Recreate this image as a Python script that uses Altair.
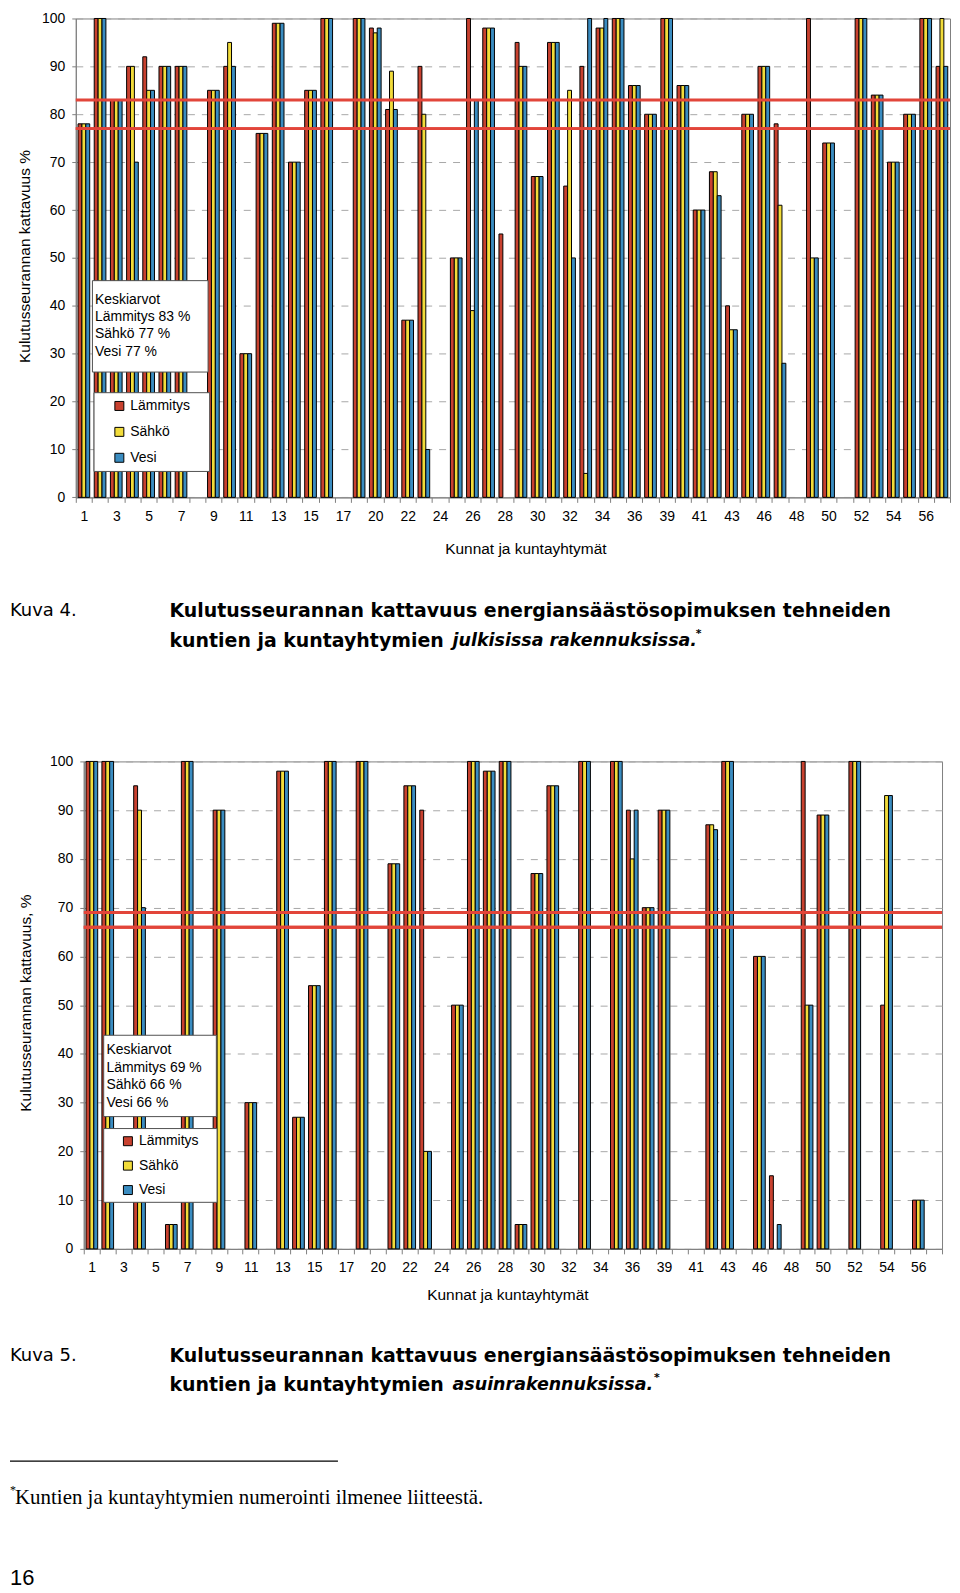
import json
import altair as alt
import pandas as pd

# ---------------- data ----------------
kunnat = ([str(i) for i in range(1, 18)] + ["19"] + [str(i) for i in range(20, 37)] + ["38"]
          + [str(i) for i in range(39, 44)] + ["45"] + [str(i) for i in range(46, 58)])
sarjat = ["Lämmitys", "Sähkö", "Vesi"]
varit = ["#c8412f", "#f2dc3a", "#3a8cc0"]
N = None

# Kuva 4: julkiset rakennukset
top_lam = [78, 100, 83, 90, 92, 90, 90, N, 85, 90, 30, 76, 99, 70, 85, 100, N, 100, 98, 81, 37, 90, N, 50, 100, 98, 55,
           95, 67, 95, 65, 90, 98, 100, 86, 80, 100, 86, 60, 68, 40, 80, 90, 78, N, 100, 74, N, 100, 84, 70, 80, 100, 90]
top_sah = [78, 100, 83, 90, 85, 90, 90, N, 85, 95, 30, 76, 99, 70, 85, 100, N, 100, 97, 89, 37, 80, N, 50, 39, 98, N,
           90, 67, 95, 85, 5, 98, 100, 86, 80, 100, 86, 60, 68, 35, 80, 90, 61, N, 50, 74, N, 100, 84, 70, 80, 100, 100]
top_ves = [78, 100, 83, 70, 85, 90, 90, N, 85, 90, 30, 76, 99, 70, 85, 100, N, 100, 98, 81, 37, 10, N, 50, 83, 98, N,
           90, 67, 95, 50, 100, 100, 100, 86, 80, 100, 86, 60, 63, 35, 80, 90, 28, N, 50, 74, N, 100, 84, 70, 80, 100, 90]
top_avg = [83, 77, 77]

# Kuva 5: asuinrakennukset
bot_lam = [100, 100, N, 95, N, 5, 100, N, 90, N, 30, N, 98, 27, 54, 100, N, 100, N, 79, 95, 90, N, 50, 100, 98, 100,
           5, 77, 95, N, 100, N, 100, 90, 70, 90, N, N, 87, 100, N, 60, 15, N, 100, 89, N, 100, N, 50, N, 10, N]
bot_sah = [100, 100, N, 90, N, 5, 100, N, 90, N, 30, N, 98, 27, 54, 100, N, 100, N, 79, 95, 20, N, 50, 100, 98, 100,
           5, 77, 95, N, 100, N, 100, 80, 70, 90, N, N, 87, 100, N, 60, N, N, 50, 89, N, 100, N, 93, N, 10, N]
bot_ves = [100, 100, N, 70, N, 5, 100, N, 90, N, 30, N, 98, 27, 54, 100, N, 100, N, 79, 95, 20, N, 50, 100, 98, 100,
           5, 77, 95, N, 100, N, 100, 90, 70, 90, N, N, 86, 100, N, 60, 5, N, 50, 89, N, 100, N, 93, N, 10, N]
bot_avg = [69, 66, 66]

x_title = "Kunnat ja kuntayhtymät"
top_ytitle = "Kulutusseurannan kattavuus %"
bot_ytitle = "Kulutusseurannan kattavuus, %"
cap_head = ["Kuva 4.", "Kuva 5."]
cap_line1 = "Kulutusseurannan kattavuus energiansäästösopimuksen tehneiden"
cap_line2 = "kuntien ja kuntayhtymien"
cap_ital = ["julkisissa rakennuksissa.", "asuinrakennuksissa."]
footnote = "Kuntien ja kuntayhtymien numerointi ilmenee liitteestä."
page_no = "16"

ONE = pd.DataFrame({"a": [0]})
SANS = "Liberation Sans"
labelled = kunnat[0::2]
label_expr = "indexof(" + json.dumps(labelled) + ", datum.value) >= 0 ? datum.label : ''"


def long(l, s, v):
    rows = []
    for i, k in enumerate(kunnat):
        for name, arr in zip(sarjat, (l, s, v)):
            if arr[i] is not None:
                rows.append({"kunta": k, "sarja": name, "arvo": arr[i]})
    return pd.DataFrame(rows)


def txt(x, y, t, **kw):
    return alt.Chart(ONE).mark_text(**kw).encode(x=alt.value(x), y=alt.value(y), text=alt.value(t))


def box(x1, x2, y1, y2):
    return alt.Chart(ONE).mark_rect(fill="white", stroke="#505050", strokeWidth=1).encode(
        x=alt.value(x1), x2=alt.value(x2), y=alt.value(y1), y2=alt.value(y2))


def panel(df, avg, W, H, ytitle, ytx, yty, xtx, xty, kbox, ktext, lbox, lx, ly, rowpad, head_x, cap_y,
          l1x, itx, itext, astx):
    bars = alt.Chart(df).mark_bar(stroke="black", strokeWidth=1).encode(
        x=alt.X("kunta:N", sort=kunnat,
                scale=alt.Scale(domain=kunnat, paddingInner=0, paddingOuter=0),
                axis=alt.Axis(title=x_title, labelExpr=label_expr, labelAngle=0, tickBand="extent",
                              tickSize=5, labelPadding=7, domainColor="#808080", tickColor="#808080",
                              labelFontSize=14, labelFont=SANS, labelColor="black",
                              titleFontSize=15.5, titleFont=SANS, titleFontWeight="normal",
                              titleColor="black", titleX=xtx, titleY=xty, titleBaseline="middle",
                              titleAlign="center", grid=False)),
        xOffset=alt.XOffset("sarja:N", sort=sarjat,
                            scale=alt.Scale(domain=sarjat, paddingInner=0, paddingOuter=0.58)),
        y=alt.Y("arvo:Q", scale=alt.Scale(domain=[0, 100], nice=False),
                axis=alt.Axis(values=list(range(0, 101, 10)), title=ytitle, grid=True,
                              gridDash=[7, 7], gridColor="#a8a8a8", gridWidth=1,
                              tickSize=4, labelPadding=7, domainColor="#808080", tickColor="#808080",
                              labelFontSize=14, labelFont=SANS, labelColor="black",
                              titleFontSize=15.5, titleFont=SANS, titleFontWeight="normal",
                              titleColor="black", titleX=ytx, titleY=yty, titleAngle=270,
                              titleBaseline="middle", titleAlign="center")),
        color=alt.Color("sarja:N", sort=sarjat, scale=alt.Scale(domain=sarjat, range=varit),
                        legend=alt.Legend(orient="none", legendX=lx, legendY=ly, title=None,
                                          direction="vertical", symbolType="square", symbolSize=81,
                                          symbolStrokeColor="black", symbolStrokeWidth=1,
                                          symbolOpacity=1, labelFontSize=14, labelFont=SANS,
                                          labelColor="black", rowPadding=rowpad, labelOffset=4,
                                          padding=0)),
    )
    rules = alt.Chart(pd.DataFrame({"sarja": sarjat, "arvo": avg})).mark_rule(
        color="#e2453a", strokeWidth=3).encode(y="arvo:Q")
    ktxt = ["Keskiarvot"] + [f"{s} {a} %" for s, a in zip(sarjat, avg)]
    layers = [
        bars, rules,
        box(*kbox),
        txt(ktext[0], ktext[1], ktxt, align="left", baseline="middle", fontSize=14, font=SANS,
            lineHeight=17.4, color="black"),
        box(*lbox),
        txt(head_x, cap_y, cap_head[itext], align="left", baseline="middle", fontSize=18,
            font="DejaVu Sans", color="black"),
        txt(l1x, cap_y, cap_line1, align="left", baseline="middle", fontSize=19,
            font="DejaVu Sans", fontWeight="bold", color="black"),
        txt(l1x, cap_y + 30, cap_line2, align="left", baseline="middle", fontSize=19,
            font="DejaVu Sans", fontWeight="bold", color="black"),
        txt(itx, cap_y + 30, cap_ital[itext], align="left", baseline="middle", fontSize=17.5,
            font="DejaVu Sans", fontWeight="bold", fontStyle="italic", color="black"),
        txt(astx, cap_y + 23, "*", align="left", baseline="middle", fontSize=11,
            font="DejaVu Sans", fontWeight="bold", color="black"),
    ]
    return alt.layer(*layers).properties(width=W, height=H)


T1 = 16.3          # page y of the top plot's upper edge
L1, L2 = 74, 82    # page x of the plot areas' left edges
B2 = 761           # page y of the lower plot's upper edge

top = panel(long(top_lam, top_sah, top_ves), top_avg, 877, 496.7 - T1, top_ytitle,
            23 - L1, 254.6 - T1, 525 - L1, 51.5,
            (90.7 - L1, 206.7 - L1, 279.3 - T1, 371 - T1), (93.3 - L1, 298.3 - T1),
            (92.3 - L1, 208.3 - L1, 391.7 - T1, 470.7 - T1), 110.7 - L1, 405 - 7 - T1, 12,
            8 - L1, 611 - T1, 168 - L1, 452 - L1, 0, 696 - L1)

bot_base = alt.layer(
    panel(long(bot_lam, bot_sah, bot_ves), bot_avg, 861, 489, bot_ytitle,
          24 - L2, 1003 - B2, 507 - L2, 46,
          (102 - L2, 215 - L2, 1035.7 - B2, 1117.3 - B2), (104.7 - L2, 1051 - B2),
          (102 - L2, 215.7 - L2, 1129.3 - B2, 1203.3 - B2), 119.3 - L2, 1142 - 7 - B2, 10.5,
          8 - L2, 1357 - B2, 168 - L2, 452 - L2, 1, 654 - L2),
    alt.Chart(ONE).mark_rule(color="black", strokeWidth=1.3).encode(
        x=alt.value(8 - L2), x2=alt.value(337 - L2), y=alt.value(1463 - B2)),
    txt(8 - L2, 1492 - B2, "*", align="left", baseline="middle", fontSize=12, font="Liberation Serif",
        color="black"),
    txt(13 - L2, 1500 - B2, footnote, align="left", baseline="middle", fontSize=21,
        font="Liberation Serif", color="black"),
    txt(8 - L2, 1580 - B2, page_no, align="left", baseline="middle", fontSize=22, font=SANS,
        color="black"),
)

chart = alt.vconcat(top, bot_base, spacing=B2 - 496.7, bounds="flush", center=True).resolve_scale(
    color="independent", x="independent", y="independent"
).properties(padding={"top": 0, "left": 0, "right": 0, "bottom": 0}, background="white"
).configure_view(stroke="#808080", strokeWidth=1)

chart.save("out.html", embed_options={"renderer": "svg", "actions": False})
